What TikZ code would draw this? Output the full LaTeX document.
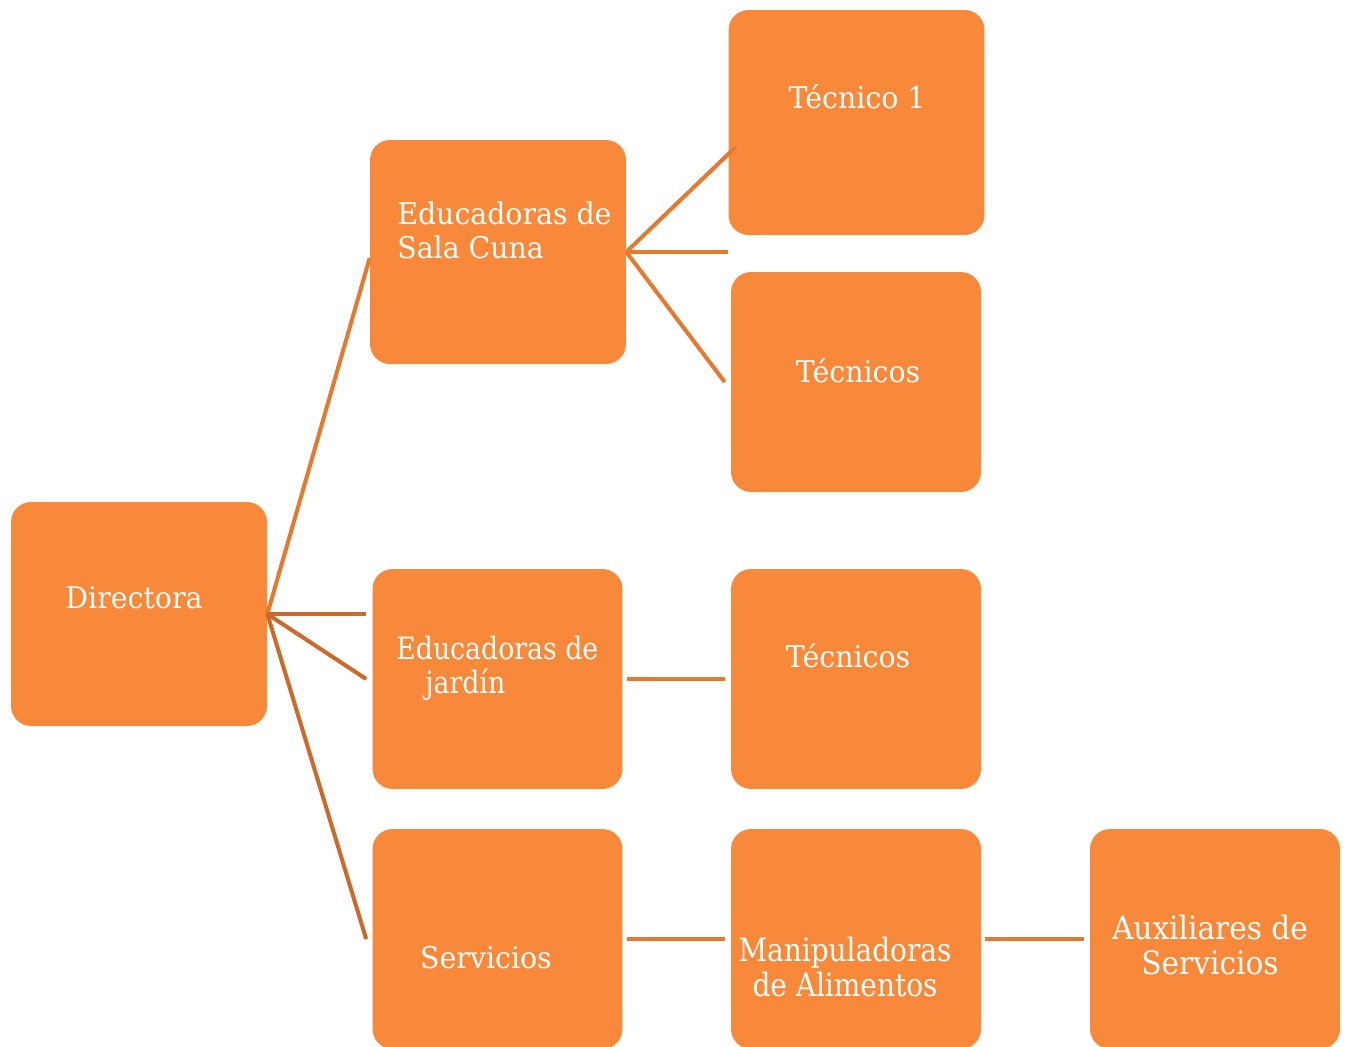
\documentclass[tikz,border=0pt]{standalone}
\usepackage{fontspec}
\setmainfont{DejaVu Serif}[FakeStretch=0.95]
\newfontfamily\narrowfont{DejaVu Serif}[FakeStretch=0.87]
\newfontfamily\auxfont{DejaVu Serif}[FakeStretch=0.92]
\usepackage{tikz}
\usetikzlibrary{positioning}
\definecolor{boxorange}{RGB}{248,136,58}
\definecolor{linkorange}{RGB}{228,122,48}
\definecolor{linkdark}{RGB}{204,106,44}

\begin{document}
\begin{tikzpicture}[x=0.02cm, y=-0.02cm,
  box/.style={fill=boxorange, rounded corners=0.4cm, inner sep=0pt, minimum width=5cm, minimum height=4.4cm},
  wide/.style={box, minimum width=5.12cm, minimum height=4.48cm},
  lbl/.style={text=white, inner sep=0pt, font=\fontsize{17}{19.5}\selectfont},
  link/.style={linkorange, line width=2.3pt},
  linkd/.style={linkdark, line width=2.3pt}]
\useasboundingbox (0,0) rectangle (1350,1046);
% boxes
\node[wide] (dir) at (139, 614) {};
\node[wide] (cuna) at (498, 252) {};
\node[wide, minimum height=4.5cm] (tec1) at (856.5, 122.5) {};
\node[box] (tecA) at (856, 382) {};
\node[box] (jardin) at (497.5, 679) {};
\node[box] (tecB) at (856, 679) {};
\node[box] (serv) at (497.5, 939) {};
\node[box] (manip) at (856, 939) {};
\node[box] (aux) at (1215, 939) {};
% texts
\node[lbl] (tdir) at (134, 598) {Directora};
\node[lbl, anchor=west, align=left] (tcuna) at (397, 230) {Educadoras de\\ Sala Cuna};
\node[lbl] (ttec1) at (857, 97) {Técnico\ 1};
\node[lbl] (ttecA) at (858, 371) {Técnicos};
\node[lbl, anchor=west, align=left, font=\narrowfont\fontsize{17.5}{19.5}\selectfont] (tjardin) at (396, 668) {Educadoras de\\\hspace{0.58cm}jardín};
\node[lbl] (ttecB) at (848, 656) {Técnicos};
\node[lbl] (tserv) at (486, 958) {Servicios};
\node[lbl, align=center, font=\narrowfont\fontsize{18.3}{19.5}\selectfont] (tmanip) at (845, 967) {Manipuladoras\\de Alimentos};
\node[lbl, align=center, font=\auxfont\fontsize{18.3}{19.5}\selectfont] (taux) at (1210, 945) {Auxiliares de\\Servicios};
% links
\draw[link] (dir.east) -- ([yshift=-0.12cm]cuna.west);
\draw[linkd] (dir.east) -- ([xshift=-0.12cm]jardin.west |- dir.east);
\draw[linkd] (dir.east) -- ([xshift=-0.12cm]jardin.west);
\draw[linkd] (dir.east) -- ([xshift=-0.12cm]serv.west);
\draw[link] (cuna.east) -- ([shift={(0.14cm,-0.5cm)}]tec1.west);
\draw[link] (cuna.east) -- (cuna.east -| tec1.west);
\draw[link] (cuna.east) -- ([xshift=-0.12cm]tecA.west);
\draw[link] ([xshift=0.08cm]jardin.east) -- ([xshift=-0.12cm]tecB.west);
\draw[link] ([xshift=0.08cm]serv.east) -- ([xshift=-0.12cm]manip.west);
\draw[link] ([xshift=0.08cm]manip.east) -- ([xshift=-0.12cm]aux.west);
\end{tikzpicture}
\end{document}
